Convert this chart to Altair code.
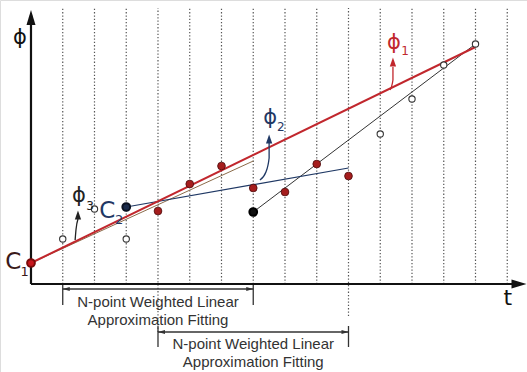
import altair as alt
import pandas as pd

# ---- data (t in grid steps, phi in arbitrary units) ----
open_t = [1, 2, 3, 11, 12, 13, 14]
open_phi = [4.5, 7.5, 4.5, 15.0, 18.5, 21.9, 24.0]

red_t = [4, 5, 6, 7, 8, 9, 10]
red_phi = [7.3, 10.0, 11.8, 9.6, 9.2, 12.0, 10.8]

c1 = (0, 2.1)
c2 = (3, 7.7)
black_pt = (7, 7.2)

grid_t = list(range(1, 16))

# fitted lines: (t0, phi0, t1, phi1)
line_phi1 = (0, 2.1, 14, 23.7)
line_phi2 = (3, 7.7, 10, 11.6)
line_phi3 = (0, 2.1, 7, 12.3)
line_black = (7, 7.2, 14, 24.0)

# curved pointer arrows
curve_seg = ["p3", "p3", "p3", "p2", "p2", "p2", "p2", "p1", "p1", "p1"]
curve_t = [1.39, 1.42, 1.48, 7.21, 7.40, 7.50, 7.50, 11.31, 11.40, 11.40]
curve_phi = [4.4, 5.5, 6.5, 10.4, 11.2, 12.6, 14.1, 19.4, 20.4, 21.7]

# text labels
lab_text = ["ϕ", "t", "ϕ", "1", "ϕ", "2", "ϕ", "3", "C", "2", "C", "1"]
lab_t = [-0.35, 15.02, 11.43, 11.78, 7.53, 7.87, 1.51, 1.86, 2.40, 2.78, -0.56, -0.20]
lab_phi = [24.6, -1.4, 24.1, 23.3, 16.6, 15.7, 8.8, 7.8, 7.3, 6.4, 2.2, 1.2]

RED = "#c1272d"
NAVY = "#1f3864"
DARK = "#222222"
lab_color = ["#111111", "#111111", RED, RED, NAVY, NAVY, DARK, DARK, NAVY, NAVY, "#3a1a1a", "#3a1a1a"]
lab_size = [21, 22, 21, 12, 21, 12, 21, 12, 23, 13, 23, 13]

fit_text = ["N-point Weighted Linear", "Approximation Fitting",
            "N-point Weighted Linear", "Approximation Fitting"]
fit_t = [4, 4, 7, 7]
fit_phi = [-1.8, -3.6, -6.0, -7.8]

# ---- scales ----
xs = alt.Scale(domain=[-0.976, 15.622], nice=False, zero=False)
ys = alt.Scale(domain=[-8.8, 28.4], nice=False, zero=False)

def X(f="t"):
    return alt.X(f"{f}:Q", scale=xs, axis=None)

def Y(f="phi"):
    return alt.Y(f"{f}:Q", scale=ys, axis=None)

# grid dotted lines
grid_df = pd.DataFrame({"t": grid_t,
                        "y0": [0] * len(grid_t),
                        "y1": [27.6] * len(grid_t)})
grid_df.loc[grid_df.t == 4, "y0"] = -4.8
grid_df.loc[grid_df.t == 10, "y0"] = -3.2
grid = alt.Chart(grid_df).mark_rule(color="#555", strokeWidth=1.2, strokeDash=[1.3, 2]).encode(
    x=X(), y=Y("y0"), y2="y1:Q")

# axes
axes_df = pd.DataFrame({"t": [0, 0], "t2": [0, 15.24], "phi": [0, 0], "phi2": [26.9, 0]})
axes = alt.Chart(axes_df).mark_rule(color="#111", strokeWidth=2.2).encode(
    x=X(), x2="t2:Q", y=Y(), y2="phi2:Q")

UP = "M0,-1L0.6,1L-0.6,1Z"
RIGHT = "M1,0L-1,-0.6L-1,0.6Z"
LEFT = "M-1,0L1,-0.6L1,0.6Z"
UP_S = "M0,-1L0.7,1L-0.7,1Z"

ah_up = alt.Chart(pd.DataFrame({"t": [0], "phi": [26.65]})).mark_point(
    shape=UP, size=225, filled=True, color="#111", opacity=1).encode(x=X(), y=Y())
ah_right = alt.Chart(pd.DataFrame({"t": [15.37], "phi": [0]})).mark_point(
    shape=RIGHT, size=225, filled=True, color="#111", opacity=1).encode(x=X(), y=Y())

# brackets
br_df = pd.DataFrame({"t": [1, 4], "t2": [7, 10], "phi": [-0.5, -4.8]})
br = alt.Chart(br_df).mark_rule(color="#333", strokeWidth=1.3).encode(x=X(), x2="t2:Q", y=Y())
tick_df = pd.DataFrame({"t": [1, 7, 4, 10], "phi": [-0.1, -0.1, -4.2, -4.2],
                        "phi2": [-2.1, -2.1, -6.3, -6.3]})
ticks = alt.Chart(tick_df).mark_rule(color="#333", strokeWidth=1.3).encode(x=X(), y=Y(), y2="phi2:Q")
bl = alt.Chart(pd.DataFrame({"t": [1.11, 4.11], "phi": [-0.5, -4.8]})).mark_point(
    shape=LEFT, size=49, filled=True, color="#333", opacity=1).encode(x=X(), y=Y())
brr = alt.Chart(pd.DataFrame({"t": [6.89, 9.89], "phi": [-0.5, -4.8]})).mark_point(
    shape=RIGHT, size=49, filled=True, color="#333", opacity=1).encode(x=X(), y=Y())
fit_lab = alt.Chart(pd.DataFrame({"t": fit_t, "phi": fit_phi, "txt": fit_text})).mark_text(
    font="Liberation Sans", fontSize=15, color="#333", align="center", baseline="middle").encode(
    x=X(), y=Y(), text="txt:N")

# fitted lines
def seg(name, s):
    return pd.DataFrame({"seg": [name, name], "t": [s[0], s[2]], "phi": [s[1], s[3]]})

l3 = alt.Chart(seg("p3", line_phi3)).mark_line(color="#8b6b4a", strokeWidth=1).encode(x=X(), y=Y())
lb = alt.Chart(seg("b", line_black)).mark_line(color="#333", strokeWidth=1).encode(x=X(), y=Y())
l2 = alt.Chart(seg("p2", line_phi2)).mark_line(color=NAVY, strokeWidth=1.2).encode(x=X(), y=Y())
l1 = alt.Chart(seg("p1", line_phi1)).mark_line(color=RED, strokeWidth=2).encode(x=X(), y=Y())

# curved arrows
curve_df = pd.DataFrame({"seg": curve_seg, "t": curve_t, "phi": curve_phi,
                         "o": list(range(len(curve_t)))})
curve_color = alt.Color("seg:N", scale=alt.Scale(domain=["p1", "p2", "p3"], range=[RED, NAVY, DARK]), legend=None)
curves = alt.Chart(curve_df).mark_line(strokeWidth=1.3, interpolate="monotone").encode(
    x=X(), y=Y(), detail="seg:N", order="o:Q", color=curve_color)
cheads = alt.Chart(pd.DataFrame({"seg": ["p3", "p2", "p1"], "t": [1.48, 7.50, 11.40],
                                 "phi": [6.9, 14.5, 22.2]})).mark_point(
    shape=UP_S, size=81, filled=True, opacity=1).encode(x=X(), y=Y(), color=curve_color)

# points
open_pts = alt.Chart(pd.DataFrame({"t": open_t, "phi": open_phi})).mark_point(
    shape="circle", size=40, filled=True, fill="white", stroke="#333", strokeWidth=1.1, opacity=1).encode(
    x=X(), y=Y())
red_pts = alt.Chart(pd.DataFrame({"t": red_t, "phi": red_phi})).mark_point(
    shape="circle", size=60, filled=True, fill="#a51d1d", stroke="#4a0a0a", strokeWidth=0.8, opacity=1).encode(
    x=X(), y=Y())
c1_pt = alt.Chart(pd.DataFrame({"t": [c1[0]], "phi": [c1[1]]})).mark_point(
    shape="circle", size=60, filled=True, fill="#c8161d", stroke="#7a0a0a", opacity=1).encode(x=X(), y=Y())
c2_pt = alt.Chart(pd.DataFrame({"t": [c2[0]], "phi": [c2[1]]})).mark_point(
    shape="circle", size=60, filled=True, fill="#1a2a4a", stroke="#0a1020", opacity=1).encode(x=X(), y=Y())
blk_pt = alt.Chart(pd.DataFrame({"t": [black_pt[0]], "phi": [black_pt[1]]})).mark_point(
    shape="circle", size=60, filled=True, fill="#111", stroke="#000", opacity=1).encode(x=X(), y=Y())

# labels
lab_df = pd.DataFrame({"t": lab_t, "phi": lab_phi, "txt": lab_text, "c": lab_color, "s": lab_size})
labels = alt.Chart(lab_df).mark_text(font="DejaVu Sans", align="center", baseline="middle").encode(
    x=X(), y=Y(), text="txt:N", color=alt.Color("c:N", scale=None), size=alt.Size("s:Q", scale=None))

chart = alt.layer(
    grid, axes, ah_up, ah_right, br, ticks, bl, brr, fit_lab,
    l3, lb, l2, l1, curves, cheads,
    open_pts, red_pts, c1_pt, c2_pt, blk_pt, labels
).properties(width=527, height=372, padding=0, autosize=alt.AutoSizeParams(type="none")
).configure_view(stroke=None).configure(background="white")

chart.save("out.html", embed_options={"renderer": "svg", "actions": False})
